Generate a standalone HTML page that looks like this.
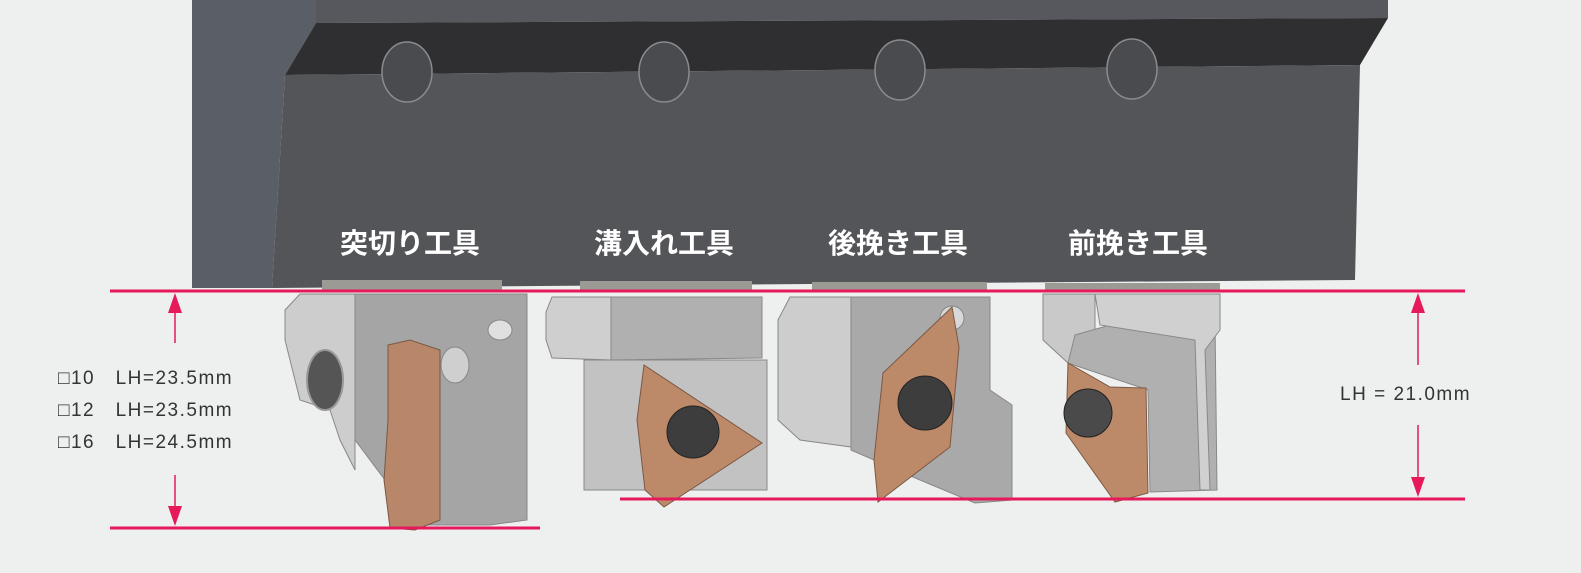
<!DOCTYPE html>
<html><head><meta charset="utf-8"><style>
html,body{margin:0;padding:0;background:#eef0ef;}
svg{display:block}
</style></head><body>
<svg width="1581" height="573" viewBox="0 0 1581 573" xmlns="http://www.w3.org/2000/svg">
<rect width="1581" height="573" fill="#eef0ef"/>
<!-- holder -->
<polygon points="192,0 316,0 316,23 285,75 272,288 192,288" fill="#5a5e66"/>
<polygon points="316,0 1388,0 1388,18 316,23" fill="#56585d"/>
<polygon points="316,23 1388,18 1360,65 285,75" fill="#2f2f31"/>
<polygon points="285,75 1360,65 1355,280 272,288" fill="#545559"/>
<g fill="#4a4b4f" stroke="#8a8b90" stroke-width="1.5">
<ellipse cx="407" cy="72" rx="25" ry="30"/>
<ellipse cx="664" cy="72" rx="25" ry="30"/>
<ellipse cx="900" cy="70" rx="25" ry="30"/>
<ellipse cx="1132" cy="69" rx="25" ry="30"/>
</g>
<g font-family="Liberation Sans,Noto Sans CJK JP,sans-serif" font-weight="bold" font-size="28" fill="#fff" text-anchor="middle">
<text x="410" y="253">突切り工具</text>
<text x="664" y="253">溝入れ工具</text>
<text x="898" y="253">後挽き工具</text>
<text x="1138" y="253">前挽き工具</text>
</g>
<!-- shank stubs -->
<g fill="#9c9a94">
<rect x="322" y="280" width="180" height="12"/>
<rect x="580" y="281" width="172" height="11"/>
<rect x="812" y="282" width="175" height="10"/>
<rect x="1045" y="283" width="175" height="9"/>
</g>
<!-- tool 1 -->
<polygon points="300,294 355,294 355,470 340,440 330,410 300,400 285,340 285,310" fill="#cdcdcd" stroke="#888" stroke-width="1"/>
<polygon points="355,294 527,294 527,520 490,525 420,525 385,480 355,440" fill="#a5a5a5" stroke="#888" stroke-width="1"/>
<ellipse cx="325" cy="380" rx="18" ry="30" fill="#555" stroke="#999" stroke-width="2"/>
<ellipse cx="500" cy="330" rx="12" ry="10" fill="#e0e0e0" stroke="#888"/>
<ellipse cx="455" cy="365" rx="14" ry="18" fill="#cfcfcf" stroke="#888"/>
<polygon points="388,345 410,340 440,350 440,520 415,530 390,528 384,480 388,420" fill="#b8876a" stroke="#7a5844" stroke-width="1"/>
<!-- tool 2 -->
<polygon points="584,360 767,360 767,490 584,490" fill="#c2c2c2" stroke="#888"/>
<polygon points="552,297 611,297 611,360 552,358 546,340 546,312" fill="#cfcfcf" stroke="#888"/>
<polygon points="611,297 762,297 762,358 611,360" fill="#b0b0b0" stroke="#888"/>
<polygon points="644,365 762,443 664,507 645,490 637,420" fill="#bd8a69" stroke="#7a5844"/>
<circle cx="693" cy="432" r="26" fill="#3d3d3d" stroke="#222"/>
<!-- tool 3 -->
<polygon points="790,297 851,297 851,447 800,440 778,420 778,320" fill="#cdcdcd" stroke="#888"/>
<polygon points="851,297 990,297 990,390 1012,405 1012,500 975,503 920,480 851,450" fill="#a9a9a9" stroke="#888"/>
<circle cx="952" cy="318" r="12" fill="#d8d8d8" stroke="#888"/>
<polygon points="949,310 952,307 959,347 950,447 878,502 874,460 883,373" fill="#bd8a69" stroke="#7a5844"/>
<circle cx="925" cy="403" r="27" fill="#3d3d3d" stroke="#222"/>
<!-- tool 4 -->
<polygon points="1043,294 1095,294 1095,330 1068,363 1043,340" fill="#c9c9c9" stroke="#888"/>
<polygon points="1075,335 1110,325 1215,320 1217,490 1150,492 1148,390 1068,363" fill="#b0b0b0" stroke="#888"/>
<polygon points="1095,294 1220,294 1220,330 1205,350 1210,490 1200,490 1195,340 1100,325" fill="#d0d0d0" stroke="#888"/>
<polygon points="1068,363 1110,387 1146,388 1148,493 1115,502 1066,433" fill="#bd8a69" stroke="#7a5844"/>
<circle cx="1088" cy="413" r="24" fill="#4a4a4a" stroke="#222"/>
<!-- red dimension lines -->
<g stroke="#e6195a" stroke-width="3">
<line x1="110" y1="291" x2="1465" y2="291"/>
<line x1="110" y1="528" x2="540" y2="528"/>
<line x1="620" y1="499" x2="1465" y2="499"/>
</g>
<g stroke="#e6195a" stroke-width="1.5">
<line x1="175" y1="300" x2="175" y2="343"/>
<line x1="175" y1="475" x2="175" y2="518"/>
<line x1="1418" y1="300" x2="1418" y2="365"/>
<line x1="1418" y1="425" x2="1418" y2="490"/>
</g>
<g fill="#e6195a">
<polygon points="175,293 168,313 182,313"/>
<polygon points="175,526 168,506 182,506"/>
<polygon points="1418,293 1411,313 1425,313"/>
<polygon points="1418,497 1411,477 1425,477"/>
</g>
<g font-family="Liberation Sans,Noto Sans CJK JP,sans-serif" font-size="19" fill="#333" letter-spacing="1.5">
<text x="58" y="384">□10　LH=23.5mm</text>
<text x="58" y="416">□12　LH=23.5mm</text>
<text x="58" y="448">□16　LH=24.5mm</text>
<text x="1340" y="400">LH = 21.0mm</text>
</g>
</svg>
</body></html>
